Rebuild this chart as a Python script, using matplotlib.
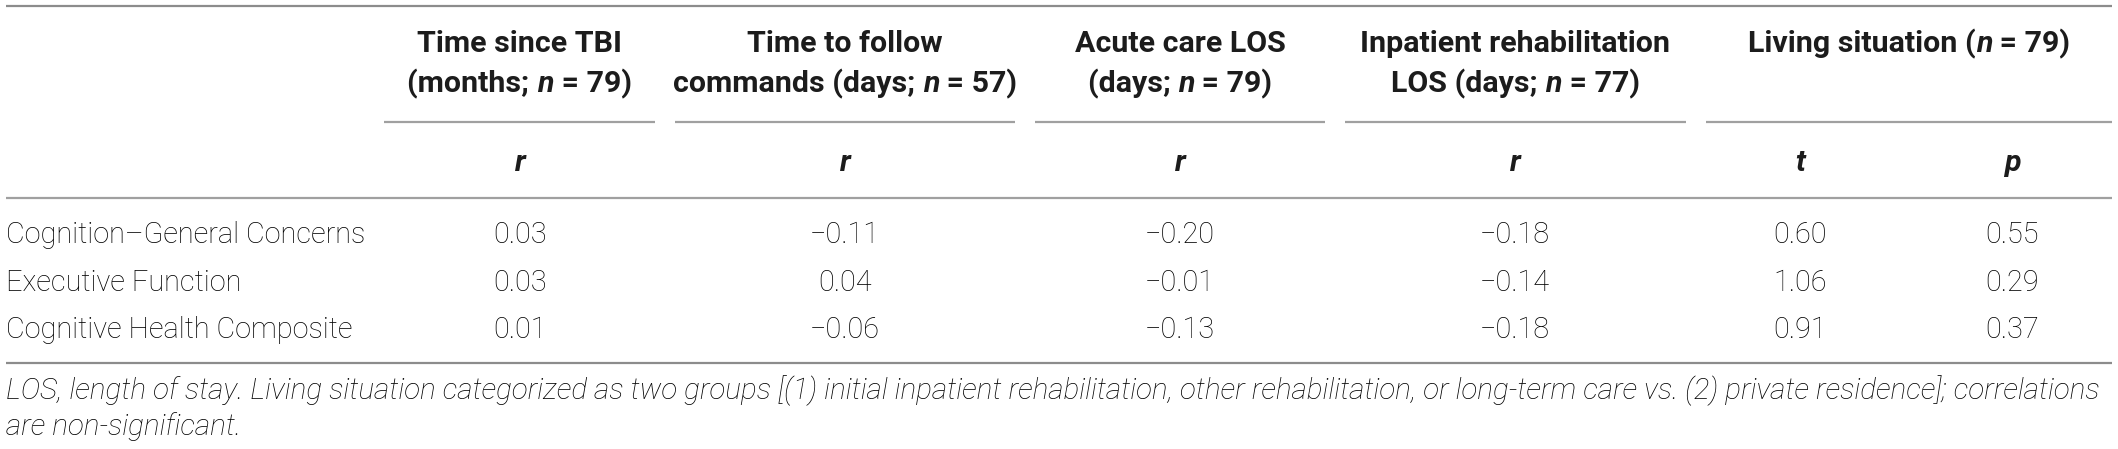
import matplotlib
matplotlib.use("Agg")
import matplotlib.pyplot as plt
from matplotlib import font_manager

# ---------------- data ----------------
row_labels = ["Cognition\u2013General Concerns", "Executive Function", "Cognitive Health Composite"]
time_since_tbi = [0.03, 0.03, 0.01]
time_to_follow = [-0.11, 0.04, -0.06]
acute_care_los = [-0.20, -0.01, -0.13]
inpatient_los = [-0.18, -0.14, -0.18]
living_t = [0.60, 1.06, 0.91]
living_p = [0.55, 0.29, 0.37]

group_headers = [
    [[("Time since TBI", "b")], [("(months; ", "b"), ("n", "bi"), (" = 79)", "b")]],
    [[("Time to follow", "b")], [("commands (days; ", "b"), ("n", "bi"), (" = 57)", "b")]],
    [[("Acute care LOS", "b")], [("(days; ", "b"), ("n", "bi"), (" = 79)", "b")]],
    [[("Inpatient rehabilitation", "b")], [("LOS (days; ", "b"), ("n", "bi"), (" = 77)", "b")]],
    [[("Living situation (", "b"), ("n", "bi"), (" = 79)", "b")]],
]
sub_headers = ["r", "r", "r", "r", "t", "p"]
footnote = [
    "LOS, length of stay. Living situation categorized as two groups [(1) initial inpatient rehabilitation, "
    "other rehabilitation, or long-term care vs. (2) private residence]; correlations",
    "are non-significant.",
]

# ---------------- layout ----------------
W, H = 2118, 449
fonts = font_manager.fontManager.ttflist
names = {f.name for f in fonts}
FAM = "Roboto" if "Roboto" in names else ("Liberation Sans" if "Liberation Sans" in names else "DejaVu Sans")
light_ok = any(f.name == FAM and f.weight in (300, "light") for f in fonts)
BODY_W = "light" if light_ok else "normal"

fig = plt.figure(figsize=(W / 100, H / 100), dpi=100)
ax = fig.add_axes([0, 0, 1, 1])
ax.set_xlim(0, W)
ax.set_ylim(H, 0)
ax.axis("off")
renderer = fig.canvas.get_renderer()

TXT = "#1c1c1c"
BODY = "#000000"
LINE = "#a0a0a0"

def width_of(s, size, weight="normal", style="normal"):
    t = ax.text(0, 0, s, fontsize=size, family=FAM, weight=weight, style=style)
    w = t.get_window_extent(renderer).width
    t.remove()
    return w

# fit font sizes to measured widths in the reference
body_size = 20 * 360 / width_of(row_labels[0], 20, weight=BODY_W)
head_size = 20 * 204 / width_of("Time since TBI", 20, weight="bold")
foot_size = 20 * 2096 / width_of(footnote[0], 20, weight=BODY_W, style="italic")

STY = {"b": ("bold", "normal"), "bi": ("bold", "italic")}

def rich(x, y, runs, size):
    widths = [width_of(s, size, *STY[k]) for s, k in runs]
    x0 = x - sum(widths) / 2
    for (s, k), w in zip(runs, widths):
        wt, st = STY[k]
        ax.text(x0, y, s, fontsize=size, family=FAM, weight=wt, style=st,
                color=TXT, ha="left", va="baseline")
        x0 += w

x_left, x_right = 6, 2112
group_spans = [(384, 655), (675, 1015), (1035, 1325), (1345, 1686), (1706, 2112)]
col_x = [520, 845, 1180, 1515, 1800, 2012]
head_base = [52, 92]
sub_base = 171
row_base = [243, 291, 338]
foot_base = [399, 435]

# horizontal rules
ax.plot([x_left, x_right], [6, 6], color="#8c8c8c", lw=1.6, solid_capstyle="butt")
for a, b in group_spans:
    ax.plot([a, b], [122, 122], color=LINE, lw=1.6, solid_capstyle="butt")
ax.plot([x_left, x_right], [198, 198], color=LINE, lw=1.6, solid_capstyle="butt")
ax.plot([x_left, x_right], [363, 363], color="#8c8c8c", lw=1.6, solid_capstyle="butt")

# group headers
for (a, b), lines in zip(group_spans, group_headers):
    cx = (a + b) / 2
    for i, runs in enumerate(lines):
        rich(cx, head_base[i], runs, head_size)

# sub headers
for x, s in zip(col_x, sub_headers):
    ax.text(x, sub_base, s, fontsize=head_size, family=FAM, weight="bold", style="italic",
            color=TXT, ha="center", va="baseline")

def fmt(v):
    s = f"{abs(v):.2f}"
    return ("\u2212" + s) if v < 0 else s

cols = [time_since_tbi, time_to_follow, acute_care_los, inpatient_los, living_t, living_p]
for r, lab in enumerate(row_labels):
    ax.text(x_left, row_base[r], lab, fontsize=body_size, family=FAM, weight=BODY_W, color=BODY,
            ha="left", va="baseline")
    for x, vals in zip(col_x, cols):
        ax.text(x, row_base[r], fmt(vals[r]), fontsize=body_size, family=FAM, weight=BODY_W,
                color=BODY, ha="center", va="baseline")

for i, line in enumerate(footnote):
    ax.text(x_left, foot_base[i], line, fontsize=foot_size, family=FAM, weight=BODY_W,
            style="italic", color=BODY, ha="left", va="baseline")

fig.savefig("out.png", dpi=100, facecolor="white")
